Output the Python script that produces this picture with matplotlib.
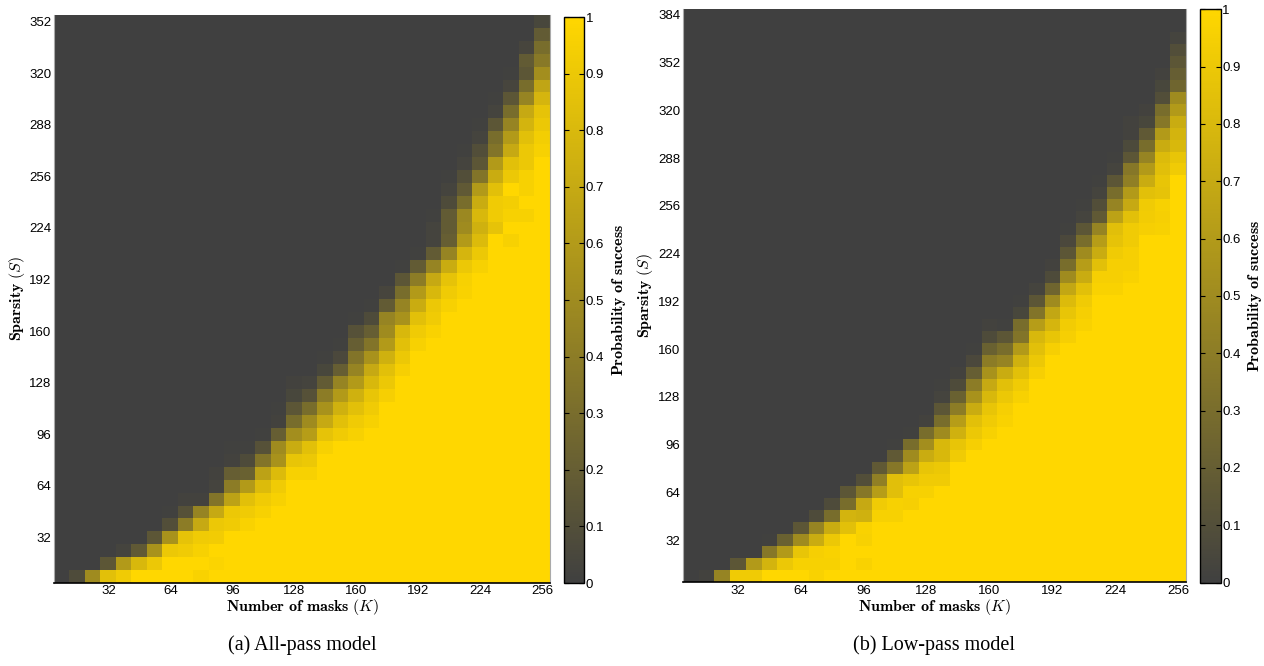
import numpy as np
import matplotlib
matplotlib.use("Agg")
import matplotlib.pyplot as plt
from matplotlib.colors import LinearSegmentedColormap

plt.rcParams['mathtext.fontset'] = 'cm'
plt.rcParams['font.family'] = ['Liberation Sans', 'DejaVu Sans']

# cell centres: K = 8, 16, ..., 256 ; S = 8, 16, ...
k_values = np.arange(8, 257, 8)
s_values_a = np.arange(8, 353, 8)   # all-pass: 44 rows
s_values_b = np.arange(8, 385, 8)   # low-pass: 48 rows

k_ticks = [32, 64, 96, 128, 160, 192, 224, 256]
s_ticks_a = [32, 64, 96, 128, 160, 192, 224, 256, 288, 320, 352]
s_ticks_b = [32, 64, 96, 128, 160, 192, 224, 256, 288, 320, 352, 384]
cbar_ticks = [0, 0.1, 0.2, 0.3, 0.4, 0.5, 0.6, 0.7, 0.8, 0.9, 1]
cbar_labels = ["0", "0.1", "0.2", "0.3", "0.4", "0.5", "0.6", "0.7", "0.8", "0.9", "1"]

# per column (K): rows at probability 1 counted from S=8, then the values read
# upward through the transition; everything above is 0
full_rows_a = [0, 0, 0, 0, 0, 1, 1, 2, 2, 0, 0, 4, 4, 5, 6, 8,
               8, 10, 11, 11, 12, 14, 16, 18, 19, 21, 22, 24, 26, 26, 28, 33]
ramps_a = [
    [0.0],
    [0.08],
    [0.5],
    [0.85, 0.15],
    [0.92, 0.6, 0.03],
    [0.8, 0.17],
    [0.9, 0.55, 0.15],
    [0.9, 0.55, 0.1, 0.01],
    [0.92, 0.87, 0.4, 0.12, 0.02],
    [0.97, 1, 0.96, 0.92, 0.7, 0.45, 0.02],
    [1, 0.98, 1, 0.93, 0.9, 0.7, 0.35, 0.03, 0.02],
    [0.92, 0.9, 0.65, 0.4, 0.2, 0.02, 0.01],
    [0.97, 0.92, 0.85, 0.6, 0.22, 0.08, 0.01],
    [0.96, 0.92, 0.82, 0.65, 0.35, 0.12, 0.01],
    [0.96, 0.92, 0.82, 0.55, 0.5, 0.2, 0.02, 0.01],
    [0.96, 0.88, 0.72, 0.52, 0.3, 0.15, 0.05, 0.02],
    [0.96, 0.9, 0.85, 0.62, 0.5, 0.3, 0.12, 0.03],
    [0.96, 0.87, 0.7, 0.55, 0.4, 0.18, 0.05, 0.01],
    [0.92, 0.85, 0.75, 0.6, 0.45, 0.2, 0.06, 0.01],
    [0.96, 0.92, 0.85, 0.75, 0.6, 0.45, 0.35, 0.2, 0.12, 0.01],
    [0.96, 0.92, 0.88, 0.8, 0.7, 0.55, 0.35, 0.2, 0.08, 0.01],
    [0.95, 0.9, 0.85, 0.75, 0.6, 0.5, 0.45, 0.18, 0.04],
    [0.95, 0.9, 0.85, 0.8, 0.55, 0.45, 0.3, 0.15, 0.01],
    [0.96, 0.92, 0.85, 0.72, 0.6, 0.4, 0.18, 0.01],
    [0.97, 0.92, 0.9, 0.8, 0.7, 0.45, 0.18, 0.03, 0.03, 0.01],
    [0.96, 0.92, 0.87, 0.72, 0.45, 0.2, 0.18, 0.18, 0.08, 0.03, 0.01],
    [0.97, 0.96, 0.9, 0.78, 0.6, 0.5, 0.48, 0.3, 0.17, 0.1, 0.03, 0.01],
    [0.96, 0.9, 0.82, 0.75, 0.8, 0.72, 0.6, 0.35, 0.15, 0.1, 0.03, 0.01],
    [1, 0.87, 0.92, 0.92, 0.85, 0.72, 0.6, 0.35, 0.3, 0.15, 0.03, 0.01],
    [0.96, 1, 0.96, 0.94, 1, 0.9, 0.85, 0.7, 0.6, 0.45, 0.3, 0.15, 0.04, 0.01],
    [0.96, 1, 0.96, 0.96, 0.9, 0.9, 0.85, 0.77, 0.7, 0.45, 0.3, 0.15, 0.18, 0.04],
    [0.96, 0.94, 0.9, 0.87, 0.78, 0.67, 0.52, 0.38, 0.3, 0.18, 0.05],
]

full_rows_b = [0, 0, 0, 0, 0, 1, 1, 1, 0, 1, 4, 0, 5, 5, 6, 7,
               8, 10, 11, 12, 13, 15, 17, 19, 20, 21, 24, 24, 25, 29, 29, 34]
ramps_b = [
    [0.0],
    [0.02],
    [0.45],
    [0.92, 0.15],
    [0.92, 0.6],
    [0.77, 0.37, 0.01],
    [0.9, 0.6, 0.22],
    [0.96, 0.88, 0.5, 0.15],
    [0.97, 0.96, 0.95, 0.72, 0.45, 0.08],
    [0.96, 0.97, 0.9, 0.72, 0.3, 0.08],
    [0.85, 0.77, 0.3, 0.15],
    [1, 0.97, 1, 0.96, 0.97, 0.75, 0.7, 0.37, 0.1],
    [0.96, 0.92, 0.62, 0.42, 0.17],
    [0.96, 0.96, 0.84, 0.84, 0.37, 0.17, 0.01],
    [0.95, 0.96, 0.88, 0.65, 0.5, 0.3, 0.01],
    [0.96, 0.92, 0.88, 0.72, 0.52, 0.3, 0.02],
    [0.92, 0.9, 0.8, 0.8, 0.5, 0.3, 0.15, 0.03, 0.01],
    [0.92, 0.88, 0.75, 0.62, 0.4, 0.22, 0.08, 0.02],
    [0.95, 0.9, 0.85, 0.72, 0.55, 0.4, 0.2, 0.06, 0.01],
    [0.96, 0.92, 0.88, 0.8, 0.7, 0.55, 0.4, 0.22, 0.08, 0.02],
    [0.97, 0.95, 0.9, 0.85, 0.72, 0.45, 0.3, 0.15, 0.01],
    [0.96, 0.92, 0.85, 0.75, 0.6, 0.35, 0.3, 0.05, 0.01],
    [0.95, 0.9, 0.85, 0.8, 0.62, 0.35, 0.15, 0.03],
    [0.95, 0.88, 0.78, 0.68, 0.5, 0.25, 0.08, 0.02],
    [0.95, 0.93, 0.88, 0.82, 0.68, 0.5, 0.3, 0.15, 0.06, 0.01],
    [0.97, 0.95, 0.92, 0.85, 0.72, 0.62, 0.5, 0.3, 0.15, 0.03, 0.01],
    [0.97, 0.95, 0.85, 0.72, 0.62, 0.45, 0.17, 0.1, 0.03, 0.01],
    [0.97, 0.95, 0.95, 0.92, 0.87, 0.84, 0.65, 0.45, 0.3, 0.15, 0.03, 0.01],
    [0.97, 0.95, 0.95, 0.92, 0.92, 0.85, 0.7, 0.6, 0.42, 0.37, 0.15, 0.07, 0.02, 0.02],
    [0.95, 0.93, 0.92, 0.85, 0.72, 0.6, 0.45, 0.3, 0.17, 0.05, 0.02],
    [0.96, 0.95, 0.96, 0.87, 0.88, 0.84, 0.82, 0.72, 0.6, 0.37, 0.3, 0.1, 0.05, 0.02],
    [0.92, 0.88, 0.8, 0.77, 0.72, 0.6, 0.5, 0.25, 0.2, 0.15, 0.1, 0.03],
]


def build_grid(full_rows, ramps, n_rows):
    grid = np.zeros((n_rows, len(full_rows)))
    for j, (n, ramp) in enumerate(zip(full_rows, ramps)):
        col = [1.0] * n + list(ramp)
        grid[:len(col), j] = col
    return grid


cmap = LinearSegmentedColormap.from_list("gold", ["#404040", "#ffd700"])

fig = plt.figure(figsize=(12.64, 6.66), dpi=100)

panels = [
    # data, s values, s ticks, axes rect, colorbar rect, caption
    (build_grid(full_rows_a, ramps_a, len(s_values_a)), s_values_a, s_ticks_a,
     [0.0430, 0.1251, 0.3922, 0.8524], [0.4464, 0.1246, 0.0158, 0.8498],
     "(a) All-pass model"),
    (build_grid(full_rows_b, ramps_b, len(s_values_b)), s_values_b, s_ticks_b,
     [0.5403, 0.1261, 0.3979, 0.8604], [0.9494, 0.1251, 0.0164, 0.8610],
     "(b) Low-pass model"),
]

for grid, s_vals, s_ticks, ax_rect, cb_rect, caption in panels:
    ax = fig.add_axes(ax_rect)
    extent = [k_values[0] - 4, k_values[-1] + 4, s_vals[0] - 4, s_vals[-1] + 4]
    im = ax.imshow(grid, origin='lower', extent=extent, aspect='auto',
                   interpolation='nearest', cmap=cmap, vmin=0, vmax=1)
    ax.set_xticks(k_ticks)
    ax.set_yticks(s_ticks)
    ax.tick_params(length=0, labelsize=9.5, pad=2)
    ax.spines['top'].set_visible(False)
    ax.spines['left'].set_color('#aaaaaa')
    ax.spines['right'].set_color('#aaaaaa')
    ax.spines['bottom'].set_color('black')
    ax.spines['bottom'].set_linewidth(1.2)
    ax.set_xlabel(r'$\mathbf{Number\ of\ masks\ (}K\mathbf{)}$', fontsize=11.5, labelpad=0)
    ax.set_ylabel(r'$\mathbf{Sparsity\ (}S\mathbf{)}$', fontsize=11.5, labelpad=2)

    cax = fig.add_axes(cb_rect)
    cb = fig.colorbar(im, cax=cax, ticks=cbar_ticks)
    cb.ax.set_yticklabels(cbar_labels)
    cb.ax.tick_params(direction='in', left=True, right=True, length=3.5,
                      width=0.8, labelsize=9.5, pad=1)
    cb.outline.set_linewidth(1.0)
    cb.set_label(r'$\mathbf{Probability\ of\ success}$', fontsize=11.5, labelpad=4)

    cx = ax_rect[0] + ax_rect[2] / 2
    fig.text(cx, 0.031, caption, ha='center', va='center', fontsize=14.5,
             family='Liberation Serif')

fig.savefig("out.png", dpi=100)
